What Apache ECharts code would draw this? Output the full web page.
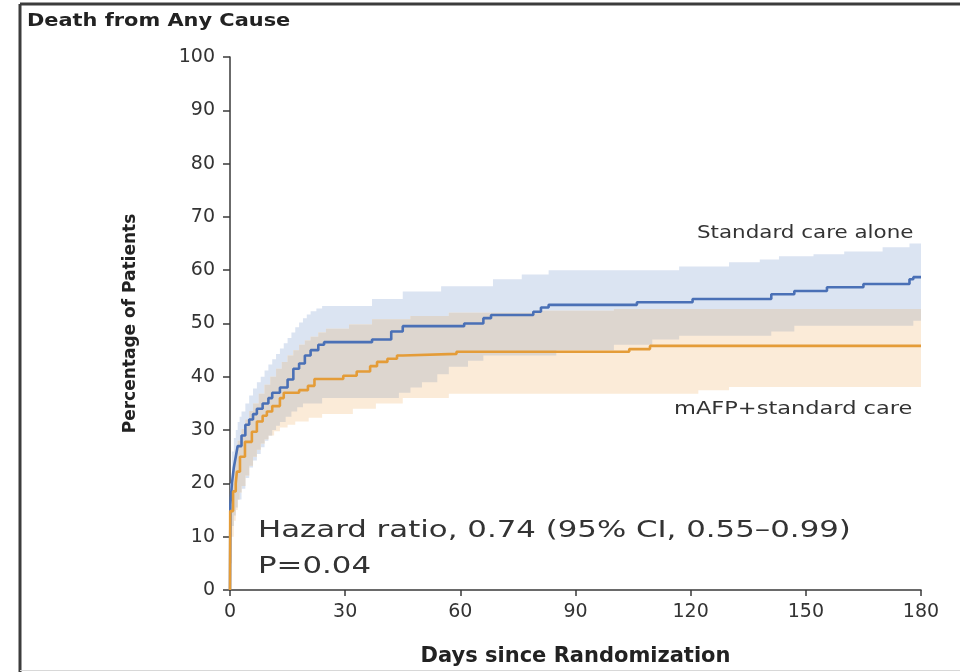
<!DOCTYPE html>
<html>
<head>
<meta charset="utf-8">
<script src="https://cdn.jsdelivr.net/npm/echarts@6/dist/echarts.min.js"></script>
<style>
html, body { margin: 0; padding: 0; background: #fff; }
#chart { width: 960px; height: 672px; }
</style>
</head>
<body>
<div id="chart"></div>
<script>
// cumulative death, [day, percent]
var standardCare = [[0,0],[0.1,16],[0.5,20],[1,23],[1.5,25],[2,27],[3,29],[4,31],[5,32],[6,33],[7,34],[8.5,35],[10,36],[11,37],[13,38],[15,39.5],[16.5,41.5],[18,42.5],[19.5,44],[21,45],[23,46],[24.5,46.5],[37,47],[42,48.5],[45,49.5],[61,50],[66,51],[68,51.6],[79,52.2],[81,53],[83,53.5],[106,54],[120.5,54.6],[141,55.5],[147,56.1],[155.5,56.8],[165,57.4],[177,58.3],[178,58.7],[180,58.7]];
var standardUpper = [[0,20],[0.5,26],[1,28.5],[1.5,30],[2,31.5],[2.5,32.5],[3,33.5],[4,35],[5,36.5],[6,37.8],[7,39],[8,40],[9,41.2],[10,42.3],[11,43.3],[12,44.3],[13,45.3],[14,46.3],[15,47.3],[16,48.3],[17,49.3],[18,50.2],[19,51],[20,51.7],[21,52.3],[22.5,52.8],[24,53.3],[37,54.6],[45,56],[55,57],[68.5,58.3],[76,59.2],[83,60],[117,60.7],[130,61.5],[138,62],[143,62.6],[152,63],[160,63.5],[170,64.3],[177,65],[180,65]];
var standardLower = [[0,10],[0.5,12],[1,14],[1.5,15.5],[2,17],[3,19],[4,21],[5,23],[6,24.3],[7,25.5],[8,26.8],[9,28],[10,29],[11,30],[12,30.8],[13,31.5],[14.5,32.5],[16,33.5],[17.5,34.3],[19,35],[24,36],[44,37],[47,38],[50,39],[54,40.5],[57,41.9],[62,43],[66,44],[85,45],[100,46],[110,47],[117,47.7],[141,48.5],[147,49.6],[178,50.5],[180,50.5]];

var mafpCare = [[0,0],[0.05,14.8],[0.8,18.5],[1.5,20],[1.8,22.2],[2.6,25],[3.9,27.8],[5.7,29.7],[7,31.6],[8.5,32.7],[9.6,33.5],[11,34.5],[13,36],[14,37],[18,37.5],[20.3,38.3],[22,39.6],[29.5,40.2],[33,41],[36.5,42],[38.3,42.8],[41,43.4],[43.5,44],[45,44.3],[59,44.7],[104,45.2],[109.4,45.8],[180,45.8]];
var mafpUpper = [[0,15],[0.5,20],[1,24],[1.5,26.3],[2,28],[3,30.2],[4,32],[5,33.6],[6,35],[7.5,36.8],[9,38.5],[10.5,40],[12,41.5],[13.5,42.8],[15,44],[16.5,45],[18,46],[19.5,46.8],[21,47.5],[23,48.3],[25,49],[31,49.8],[37,50.8],[47,51.4],[57,52],[80,52.4],[100,52.7],[180,52.7]];
var mafpLower = [[0,5],[0.5,10],[1,13],[1.5,15],[2,17],[2.5,18.3],[3,19.5],[4,21.5],[5,23.3],[6,25],[7,26.3],[8,27.5],[9,28.3],[10,29],[11.5,29.8],[13,30.5],[15,31],[17,31.6],[20.5,32.3],[24,33],[32,34],[38,35],[45,36],[57,36.8],[122,37.5],[130,38.1],[180,38.1]];

var xTicks = [0, 30, 60, 90, 120, 150, 180];
var yTicks = [0, 10, 20, 30, 40, 50, 60, 70, 80, 90, 100];

var FONT = '"DejaVu Sans", sans-serif';
var BLUE = '#4a70b6';
var ORANGE = '#e49c38';

function valAt(pts, d) {
	var v = pts[0][1];
	for (var i = 0; i < pts.length; i++) {
		if (pts[i][0] <= d) v = pts[i][1]; else break;
	}
	return v;
}

// where both confidence bands overlap
function overlapEdges() {
	var days = [];
	[standardUpper, standardLower, mafpUpper, mafpLower].forEach(function (a) {
		a.forEach(function (p) { if (days.indexOf(p[0]) < 0) days.push(p[0]); });
	});
	days.sort(function (a, b) { return a - b; });
	var up = [], lo = [];
	days.forEach(function (d) {
		var u = Math.min(valAt(standardUpper, d), valAt(mafpUpper, d));
		var l = Math.max(valAt(standardLower, d), valAt(mafpLower, d));
		if (l > u) l = u;
		up.push([d, u]);
		lo.push([d, l]);
	});
	return { lower: lo, upper: up };
}

function stepEdge(api, pts, reverse) {
	var out = [];
	for (var i = 0; i < pts.length; i++) {
		var p = api.coord(pts[i]);
		if (i > 0) out.push([p[0], api.coord(pts[i - 1])[1]]);
		out.push(p);
	}
	return reverse ? out.reverse() : out;
}

function bandSeries(name, lower, upper, fill) {
	return {
		type: 'custom',
		name: name,
		silent: true,
		z: 1,
		data: [[0, 0]],
		renderItem: function (params, api) {
			var pts = stepEdge(api, upper, false).concat(stepEdge(api, lower, true));
			return { type: 'polygon', shape: { points: pts }, style: { fill: fill } };
		}
	};
}

var both = overlapEdges();

var myChart = echarts.init(document.getElementById('chart'));

function label(text, x, y, size, sx, bold) {
	return {
		type: 'text', x: x, y: y, scaleX: sx,
		style: { text: text, fill: bold ? '#222' : '#333', textAlign: 'left', textVerticalAlign: 'middle',
			font: (bold ? 'bold ' : '') + size + 'px "DejaVu Sans", sans-serif' }
	};
}

var option = {
	animation: false,
	backgroundColor: '#fff',
	grid: { left: 230, right: 39, top: 57, bottom: 80 },
	xAxis: {
		type: 'value',
		min: 0, max: 180, interval: 30,
		axisLine: { lineStyle: { color: '#3a3a3a', width: 1.5 } },
		axisTick: { show: true, length: 6, lineStyle: { color: '#3a3a3a', width: 1.5 } },
		splitLine: { show: false },
		axisLabel: { color: '#333', fontFamily: FONT, fontSize: 19, margin: 13,
			formatter: function (v) { return xTicks.indexOf(v) >= 0 ? String(v) : ''; } },
		name: 'Days since Randomization',
		nameLocation: 'middle',
		nameGap: 56,
		nameTextStyle: { color: '#222', fontFamily: FONT, fontSize: 21, fontWeight: 'bold' }
	},
	yAxis: {
		type: 'value',
		min: 0, max: 100, interval: 10,
		axisLine: { show: true, lineStyle: { color: '#3a3a3a', width: 1.5 } },
		axisTick: { show: true, length: 7, lineStyle: { color: '#3a3a3a', width: 1.5 } },
		splitLine: { show: false },
		axisLabel: { color: '#333', fontFamily: FONT, fontSize: 19, margin: 15,
			formatter: function (v) { return yTicks.indexOf(v) >= 0 ? String(v) : ''; } },
		name: 'Percentage of Patients',
		nameLocation: 'middle',
		nameGap: 91,
		nameTextStyle: { color: '#222', fontFamily: FONT, fontSize: 17, fontWeight: 'bold' }
	},
	series: [
		bandSeries('Standard CI', standardLower, standardUpper, '#dbe4f2'),
		bandSeries('mAFP CI', mafpLower, mafpUpper, '#fbebd8'),
		bandSeries('Overlap', both.lower, both.upper, '#ddd6cf'),
		{
			name: 'Standard care alone', type: 'line', step: 'end', z: 3,
			data: standardCare, showSymbol: false, silent: true,
			lineStyle: { color: BLUE, width: 2.6 }
		},
		{
			name: 'mAFP+standard care', type: 'line', step: 'end', z: 3,
			data: mafpCare, showSymbol: false, silent: true,
			lineStyle: { color: ORANGE, width: 2.6 }
		}
	],
	graphic: [
		{ type: 'line', shape: { x1: 20, y1: 4, x2: 960, y2: 4 }, style: { stroke: '#3c3c3c', lineWidth: 3 } },
		{ type: 'line', shape: { x1: 20, y1: 4, x2: 20, y2: 672 }, style: { stroke: '#3c3c3c', lineWidth: 3 } },
		{ type: 'line', shape: { x1: 20, y1: 670.5, x2: 960, y2: 670.5 }, style: { stroke: '#d8d8d8', lineWidth: 1 } },
		label('Death from Any Cause', 27, 21, 18, 1.16, true),
		label('Standard care alone', 697, 233, 18, 1.19, false),
		label('mAFP+standard care', 674, 409, 18, 1.25, false),
		label('Hazard ratio, 0.74 (95% CI, 0.55\u20130.99)', 258, 531, 23, 1.34, false),
		label('P=0.04', 258, 567, 23, 1.34, false)
	]
};

myChart.setOption(option);
</script>
</body>
</html>
